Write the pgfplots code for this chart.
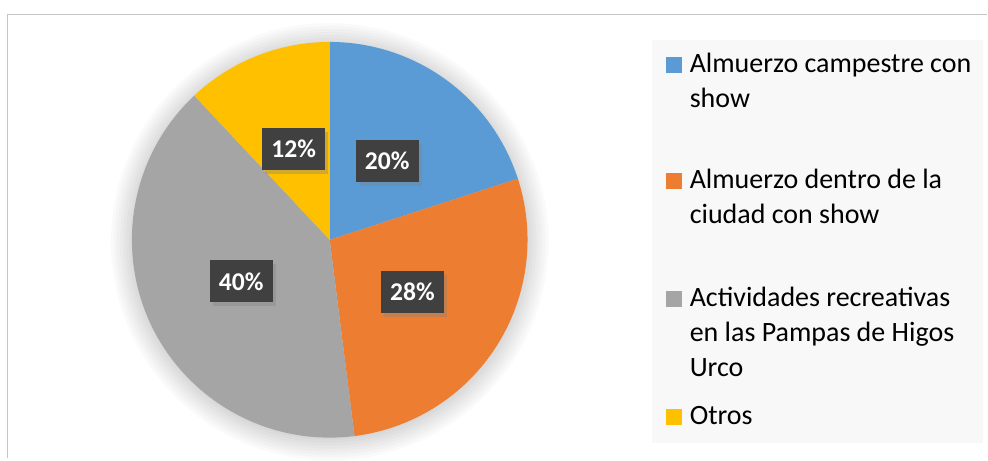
\documentclass[border=0pt]{standalone}
\usepackage{pgfplots}
\pgfplotsset{compat=1.18}
\usepackage{pgfplotstable}
\usepackage{fontspec}
\setmainfont{Carlito}
\usetikzlibrary{shadows}
\definecolor{cBlue}{HTML}{5B9BD5}
\definecolor{cOrange}{HTML}{ED7D31}
\definecolor{cGray}{HTML}{A5A5A5}
\definecolor{cYellow}{HTML}{FFC000}
\definecolor{lblbg}{HTML}{404040}
\definecolor{legbg}{HTML}{F8F8F8}
\definecolor{frameC}{HTML}{C6C6C6}

\pgfplotstableread{
value
20
28
40
12
}\piedata

\begin{document}
\begin{tikzpicture}[
  lbl/.style={fill=lblbg, text=white, font=\fontsize{12.8}{14}\selectfont\bfseries,
    minimum width=31.5pt, minimum height=21pt, inner sep=0pt,
    drop shadow={shadow xshift=1.5pt, shadow yshift=-2pt, opacity=0.35}},
  leg/.style={anchor=base west, inner sep=0pt, font=\fontsize{14}{17}\selectfont},
]
\pgfplotstablegetelem{0}{value}\of\piedata \xdef\vA{\pgfplotsretval}
\pgfplotstablegetelem{1}{value}\of\piedata \xdef\vB{\pgfplotsretval}
\pgfplotstablegetelem{2}{value}\of\piedata \xdef\vC{\pgfplotsretval}
\pgfplotstablegetelem{3}{value}\of\piedata \xdef\vD{\pgfplotsretval}
\pgfmathsetmacro\aA{90}
\pgfmathsetmacro\aB{\aA-3.6*\vA}
\pgfmathsetmacro\aC{\aB-3.6*\vB}
\pgfmathsetmacro\aD{\aC-3.6*\vC}
\pgfmathsetmacro\aE{\aD-3.6*\vD}
\pgfmathsetmacro\mA{(\aA+\aB)/2}
\pgfmathsetmacro\mB{(\aB+\aC)/2}
\pgfmathsetmacro\mC{(\aC+\aD)/2}
\pgfmathsetmacro\mD{(\aD+\aE)/2}
\begin{axis}[
  scale only axis, width=494pt, height=229pt,
  xmin=0, xmax=988, ymin=0, ymax=458, y dir=reverse,
  axis lines=none, clip=false,
]
% background and frame
\fill[white] (axis cs:0,0) rectangle (axis cs:988,458);
\draw[frameC, line width=0.9pt] (axis cs:7.5,458) -- (axis cs:7.5,14.5) -- (axis cs:988,14.5);
% soft shadow of the pie
\pgfplotsinvokeforeach{99,100.5,102,103.5,105,106.5,108,109.5}{
  \fill[black, opacity=0.018] (axis cs:330,242) circle[radius=#1pt];
}
% wedges
\fill[cBlue]   (axis cs:330,240) -- ++(\aA:99pt) arc[start angle=\aA, end angle=\aB, radius=99pt] -- cycle;
\fill[cOrange] (axis cs:330,240) -- ++(\aB:99pt) arc[start angle=\aB, end angle=\aC, radius=99pt] -- cycle;
\fill[cGray]   (axis cs:330,240) -- ++(\aC:99pt) arc[start angle=\aC, end angle=\aD, radius=99pt] -- cycle;
\fill[cYellow] (axis cs:330,240) -- ++(\aD:99pt) arc[start angle=\aD, end angle=\aE, radius=99pt] -- cycle;
% data labels
\path (axis cs:330,240) ++(\mA:49pt) node[lbl] {\vA\%};
\path (axis cs:330,240) ++(\mB:49pt) node[lbl] {\vB\%};
\path (axis cs:330,240) ++(\mC:49pt) node[lbl] {\vC\%};
\path (axis cs:330,240) ++(\mD:49pt) node[lbl] {\vD\%};
% legend
\fill[legbg] (axis cs:653,40) rectangle (axis cs:984,443);
\fill[cBlue]   (axis cs:667,57) rectangle (axis cs:683,73);
\fill[cOrange] (axis cs:667,173) rectangle (axis cs:683,189);
\fill[cGray]   (axis cs:667,291) rectangle (axis cs:683,307);
\fill[cYellow] (axis cs:667,409) rectangle (axis cs:683,425);
\node[leg] at (axis cs:690,73) {Almuerzo campestre con};
\node[leg] at (axis cs:690,107.5) {show};
\node[leg] at (axis cs:690,189) {Almuerzo dentro de la};
\node[leg] at (axis cs:690,223.5) {ciudad con show};
\node[leg] at (axis cs:690,307) {Actividades recreativas};
\node[leg] at (axis cs:690,342) {en las Pampas de Higos};
\node[leg] at (axis cs:690,376.5) {Urco};
\node[leg] at (axis cs:690,425) {Otros};
\end{axis}
\end{tikzpicture}
\end{document}
